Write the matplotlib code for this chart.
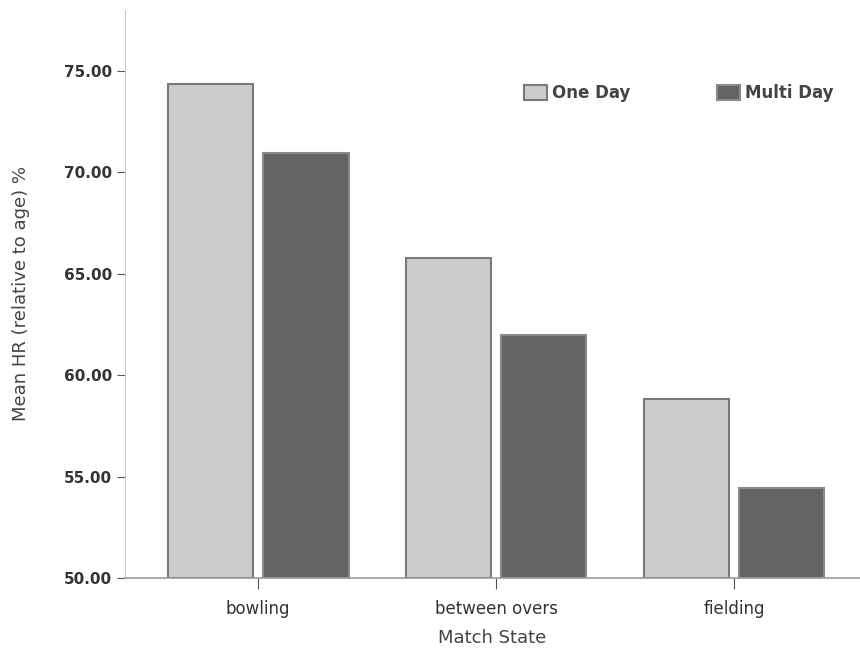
import numpy as np
import matplotlib
matplotlib.use("Agg")
import matplotlib.pyplot as plt

# Datos
categorias = ["bowling", "between overs", "fielding"]
one_day = [74.35, 65.75, 58.80]
multi_day = [70.95, 61.95, 54.45]
series = ["One Day", "Multi Day"]

fig = plt.figure(figsize=(8.6, 6.48), dpi=100)
ax = fig.add_axes([0.1453, 0.108, 0.8547, 0.877])

x = np.arange(len(categorias))
ancho = 0.36
ax.bar(x - 0.2, np.array(one_day) - 50, ancho, bottom=50, color="#cccccc",
       edgecolor="#7a7a7a", linewidth=1.5, label=series[0])
ax.bar(x + 0.2, np.array(multi_day) - 50, ancho, bottom=50, color="#636363",
       edgecolor="#8a8a8a", linewidth=1.5, label=series[1])

ax.set_xlim(-0.56, 2.53)
ax.set_ylim(50, 78)
ax.set_yticks([50, 55, 60, 65, 70, 75])
ax.set_yticklabels([f"{v:.2f}" for v in [50, 55, 60, 65, 70, 75]],
                   fontsize=11, color="#333333", fontweight="bold")
ax.set_xticks(x)
ax.set_xticklabels(categorias, fontsize=12, color="#333333")

for s in ["top", "right"]:
    ax.spines[s].set_visible(False)
ax.spines["left"].set_color("#cccccc")
ax.spines["bottom"].set_color("#999999")
ax.spines["bottom"].set_linewidth(1.2)
ax.tick_params(axis="y", direction="out", length=6, color="#555555")
ax.tick_params(axis="x", direction="out", length=8, color="#555555", pad=8)

ax.set_ylabel("Mean HR (relative to age) %", fontsize=13, color="#444444", labelpad=24)
ax.set_xlabel("Match State", fontsize=13, color="#444444", labelpad=8)

ax.legend(loc="upper right", bbox_to_anchor=(0.985, 0.895), ncol=2, frameon=False,
          prop={"size": 12, "weight": "bold"}, handlelength=1.4, handleheight=1.0,
          columnspacing=5.2, handletextpad=0.3, labelcolor="#444444")

plt.savefig("out.png", dpi=100)
